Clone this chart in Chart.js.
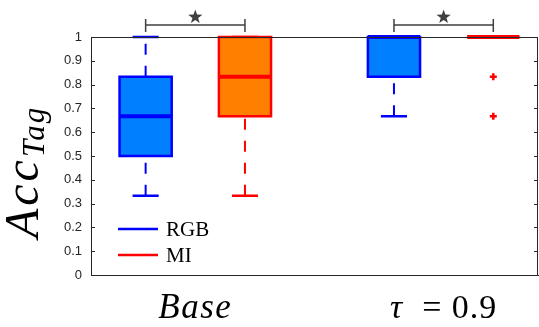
<!DOCTYPE html>
<html lang="en">
<head>
    <meta charset="UTF-8">
    <title>Acc Tag boxplot</title>
    <script src="https://cdn.jsdelivr.net/npm/chart.js"></script>
    <style>
        body {
            margin: 0;
            background: #fff;
        }
        #wrap {
            width: 539px;
            height: 327px;
        }
    </style>
</head>
<body>
    <div id="wrap">
        <canvas id="boxChart"></canvas>
    </div>

    <script>
        // groups along the x axis
        const groupNames = ['Base', 'τ = 0.9'];
        const groupPos = [1, 2];

        // box statistics per group (min, q1, median, q3, max)
        const rgbMin = [0.333, 0.667];
        const rgbQ1 = [0.5, 0.833];
        const rgbMedian = [0.667, 1];
        const rgbQ3 = [0.833, 1];
        const rgbMax = [1, 1];

        const miMin = [0.333, 1];
        const miQ1 = [0.667, 1];
        const miMedian = [0.833, 1];
        const miQ3 = [1, 1];
        const miMax = [1, 1];

        // MI outliers: group index and value
        const miOutlierGroup = [1, 1];
        const miOutlierValue = [0.833, 0.667];

        // significance brackets between RGB and MI of each group
        const sigGroups = [0, 1];

        const yTicks = [0, 0.1, 0.2, 0.3, 0.4, 0.5, 0.6, 0.7, 0.8, 0.9, 1];

        const series = [
            { name: 'RGB', offset: -0.2, fill: '#0080ff', edge: '#0000ff',
              min: rgbMin, q1: rgbQ1, med: rgbMedian, q3: rgbQ3, max: rgbMax },
            { name: 'MI', offset: 0.2, fill: '#ff8000', edge: '#ff0000',
              min: miMin, q1: miQ1, med: miMedian, q3: miQ3, max: miMax }
        ];
        const halfBox = 0.105;
        const axisColor = '#262626';

        const outlierPoints = miOutlierGroup.map((g, i) => ({
            x: groupPos[g] + series[1].offset,
            y: miOutlierValue[i]
        }));

        function drawStar(ctx, cx, cy, r) {
            ctx.beginPath();
            for (let i = 0; i < 10; i++) {
                const a = -Math.PI / 2 + i * Math.PI / 5;
                const rr = i % 2 === 0 ? r : r * 0.4;
                const px = cx + rr * Math.cos(a);
                const py = cy + rr * Math.sin(a);
                if (i === 0) ctx.moveTo(px, py); else ctx.lineTo(px, py);
            }
            ctx.closePath();
            ctx.fill();
        }

        const boxPlugin = {
            id: 'boxes',
            beforeDatasetsDraw(chart) {
                const ctx = chart.ctx;
                const xs = chart.scales.x, ys = chart.scales.y;
                ctx.save();
                series.forEach(s => {
                    groupPos.forEach((gp, g) => {
                        const cx = xs.getPixelForValue(gp + s.offset);
                        const left = xs.getPixelForValue(gp + s.offset - halfBox);
                        const right = xs.getPixelForValue(gp + s.offset + halfBox);
                        const capL = xs.getPixelForValue(gp + s.offset - halfBox / 2);
                        const capR = xs.getPixelForValue(gp + s.offset + halfBox / 2);
                        const yMin = ys.getPixelForValue(s.min[g]);
                        const yQ1 = ys.getPixelForValue(s.q1[g]);
                        const yMed = ys.getPixelForValue(s.med[g]);
                        const yQ3 = ys.getPixelForValue(s.q3[g]);
                        const yMax = ys.getPixelForValue(s.max[g]);

                        // whiskers, dashed, drawn from low to high value
                        ctx.strokeStyle = s.edge;
                        ctx.lineWidth = 2;
                        ctx.setLineDash([11, 11]);
                        if (yMin > yQ1) {
                            ctx.beginPath(); ctx.moveTo(cx, yMin); ctx.lineTo(cx, yQ1); ctx.stroke();
                        }
                        if (yQ3 > yMax) {
                            ctx.beginPath(); ctx.moveTo(cx, yQ3); ctx.lineTo(cx, yMax); ctx.stroke();
                        }
                        ctx.setLineDash([]);
                        // caps
                        ctx.lineWidth = 2.5;
                        ctx.beginPath();
                        ctx.moveTo(capL, yMin); ctx.lineTo(capR, yMin);
                        ctx.moveTo(capL, yMax); ctx.lineTo(capR, yMax);
                        ctx.stroke();

                        // box
                        ctx.fillStyle = s.fill;
                        ctx.fillRect(left, yQ3, right - left, yQ1 - yQ3);
                        ctx.lineWidth = 2.5;
                        ctx.strokeRect(left, yQ3, right - left, yQ1 - yQ3);

                        // median
                        ctx.lineWidth = 4;
                        ctx.beginPath();
                        ctx.moveTo(left, yMed); ctx.lineTo(right, yMed);
                        ctx.stroke();
                    });
                });
                ctx.restore();
            },
            afterDraw(chart) {
                const ctx = chart.ctx;
                const xs = chart.scales.x, ys = chart.scales.y;
                const a = chart.chartArea;
                ctx.save();

                // top and right frame with inward ticks
                ctx.strokeStyle = axisColor;
                ctx.lineWidth = 1;
                ctx.beginPath();
                ctx.moveTo(a.left, a.top + 0.5); ctx.lineTo(a.right, a.top + 0.5);
                ctx.moveTo(a.right - 0.5, a.top); ctx.lineTo(a.right - 0.5, a.bottom);
                yTicks.forEach(v => {
                    const py = Math.round(ys.getPixelForValue(v)) + 0.5;
                    ctx.moveTo(a.left, py); ctx.lineTo(a.left + 4, py);
                    ctx.moveTo(a.right, py); ctx.lineTo(a.right - 4, py);
                });
                ctx.stroke();

                // significance brackets
                const by = ys.getPixelForValue(1) - 12;
                ctx.strokeStyle = '#404040';
                ctx.fillStyle = '#404040';
                ctx.lineWidth = 1.5;
                sigGroups.forEach(g => {
                    const x1 = xs.getPixelForValue(groupPos[g] + series[0].offset);
                    const x2 = xs.getPixelForValue(groupPos[g] + series[1].offset);
                    ctx.beginPath();
                    ctx.moveTo(x1, by - 6); ctx.lineTo(x1, by + 7);
                    ctx.moveTo(x2, by - 6); ctx.lineTo(x2, by + 7);
                    ctx.moveTo(x1, by); ctx.lineTo(x2, by);
                    ctx.stroke();
                    drawStar(ctx, (x1 + x2) / 2, by - 8, 7.5);
                });

                // group labels
                ctx.fillStyle = '#000';
                ctx.textBaseline = 'alphabetic';
                ctx.textAlign = 'left';
                const labelY = 318;
                ctx.letterSpacing = '1.5px';
                ctx.font = 'italic 35px "Liberation Serif"';
                const wBase = ctx.measureText(groupNames[0]).width;
                ctx.fillText(groupNames[0], xs.getPixelForValue(groupPos[0]) - wBase / 2, labelY);
                // τ = 0.9 : italic tau, upright rest
                ctx.letterSpacing = '1px';
                const parts = groupNames[1].split(' ');
                ctx.font = 'italic 34px "Liberation Serif"';
                const wT = ctx.measureText(parts[0]).width;
                ctx.font = '34px "Liberation Serif"';
                const rest = '  ' + parts.slice(1).join(' ');
                const wR = ctx.measureText(rest).width;
                let lx = xs.getPixelForValue(groupPos[1]) - (wT + wR) / 2;
                ctx.font = 'italic 34px "Liberation Serif"';
                ctx.fillText(parts[0], lx, labelY);
                ctx.font = '34px "Liberation Serif"';
                ctx.fillText(rest, lx + wT, labelY);

                // y axis title Acc_Tag
                ctx.save();
                ctx.translate(38, 238);
                ctx.rotate(-Math.PI / 2);
                ctx.textAlign = 'left';
                ctx.letterSpacing = '3px';
                ctx.font = 'italic 48px "Liberation Serif"';
                ctx.fillText('Acc', 0, 0);
                const wAcc = ctx.measureText('Acc').width;
                ctx.letterSpacing = '2px';
                ctx.font = 'italic 31px "Liberation Serif"';
                ctx.fillText('Tag', wAcc, 6);
                ctx.restore();

                // legend
                ctx.letterSpacing = '0px';
                const legY = [229, 255];
                ctx.lineWidth = 2.5;
                ctx.font = '21px "Liberation Serif"';
                ctx.textBaseline = 'middle';
                series.forEach((s, i) => {
                    ctx.strokeStyle = s.edge;
                    ctx.beginPath();
                    ctx.moveTo(118, legY[i]); ctx.lineTo(158, legY[i]);
                    ctx.stroke();
                    ctx.fillStyle = '#000';
                    ctx.fillText(s.name, 166, legY[i] + 1);
                });

                ctx.restore();
            }
        };

        const ctx = document.getElementById('boxChart').getContext('2d');
        const chart = new Chart(ctx, {
            type: 'scatter',
            data: {
                datasets: [{
                    label: 'MI outliers',
                    data: outlierPoints,
                    pointStyle: 'cross',
                    pointRadius: 3.5,
                    pointBorderWidth: 2.5,
                    borderColor: '#ff0000',
                    backgroundColor: '#ff0000'
                }]
            },
            options: {
                responsive: true,
                maintainAspectRatio: false,
                animation: false,
                layout: { autoPadding: false, padding: { top: 37, right: 1, left: 0, bottom: 0 } },
                plugins: {
                    legend: { display: false },
                    tooltip: { enabled: false }
                },
                scales: {
                    x: {
                        type: 'linear',
                        min: 0.58,
                        max: 2.38,
                        ticks: { display: false },
                        grid: { display: false, drawTicks: false },
                        border: { display: true, color: axisColor, width: 1 },
                        afterFit: s => { s.height = 52; }
                    },
                    y: {
                        min: 0,
                        max: 1,
                        afterBuildTicks: s => { s.ticks = yTicks.map(v => ({ value: v })); },
                        ticks: {
                            padding: 9,
                            color: axisColor,
                            font: { family: '"Liberation Sans"', size: 13 },
                            callback: v => String(Math.round(v * 10) / 10)
                        },
                        grid: { display: false, drawTicks: false },
                        border: { display: true, color: axisColor, width: 1 },
                        afterFit: s => { s.width = 91; }
                    }
                }
            },
            plugins: [boxPlugin]
        });
    </script>
</body>
</html>
